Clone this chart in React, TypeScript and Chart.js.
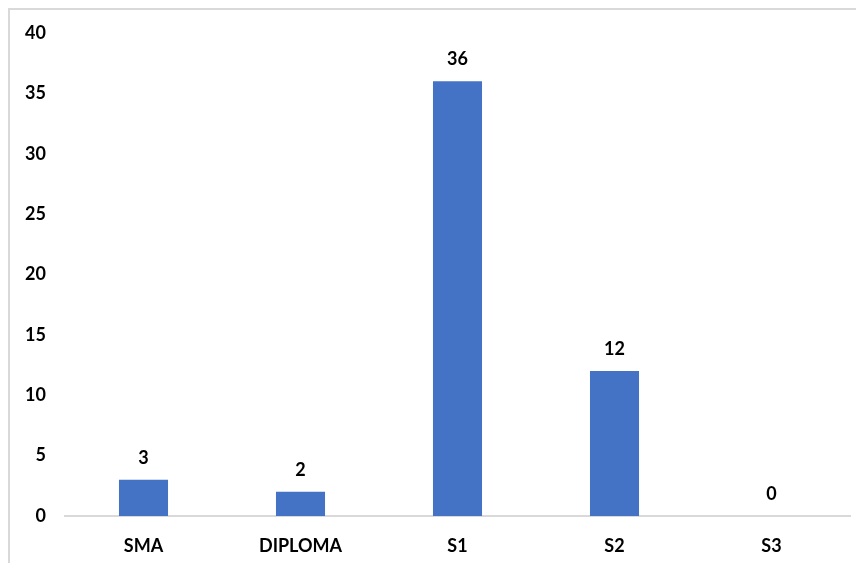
import React, { useEffect, useRef } from "react";
import { Chart, registerables } from "chart.js";

Chart.register(...registerables);

const categories = ["SMA", "DIPLOMA", "S1", "S2", "S3"];
const values = [3, 2, 36, 12, 0];
const yMin = 0;
const yMax = 40;
const yStep = 5;

const FONT = "Lato, 'Open Sans', sans-serif";

const valueLabels = {
  id: "valueLabels",
  afterDatasetsDraw(chart: any) {
    const ctx = chart.ctx;
    const meta = chart.getDatasetMeta(0);
    ctx.save();
    ctx.font = `bold 18px ${FONT}`;
    ctx.fillStyle = "#000";
    ctx.textAlign = "center";
    ctx.textBaseline = "middle";
    meta.data.forEach((el: any, i: number) => {
      ctx.fillText(String(values[i]), el.x, el.y - 22);
    });
    ctx.restore();
  },
};

export default function App() {
  const ref = useRef<HTMLCanvasElement>(null);
  useEffect(() => {
    if (!ref.current) return;
    const chart = new Chart(ref.current, {
      type: "bar",
      data: {
        labels: categories,
        datasets: [
          {
            data: values,
            backgroundColor: "#4472C4",
            barPercentage: 0.625,
            categoryPercentage: 0.5,
          },
        ],
      },
      options: {
        animation: false,
        responsive: false,
        maintainAspectRatio: false,
        layout: { padding: { top: 23, right: 14, left: 0, bottom: 0 } },
        plugins: { legend: { display: false }, tooltip: { enabled: false } },
        scales: {
          x: {
            grid: { display: false },
            border: { display: true, color: "#d9d9d9", width: 2 },
            ticks: {
              color: "#000",
              font: { family: FONT, size: 18, weight: "bold" },
              padding: 11,
            },
            afterFit(axis: any) {
              axis.height = 47;
              axis.paddingLeft = 0;
              axis.paddingRight = 0;
            },
          },
          y: {
            min: yMin,
            max: yMax,
            grid: { display: false },
            border: { display: false },
            ticks: {
              stepSize: yStep,
              color: "#000",
              font: { family: FONT, size: 18, weight: "bold" },
              padding: 11,
            },
            afterFit(axis: any) {
              axis.width = 55;
              axis.paddingTop = 0;
              axis.paddingBottom = 0;
            },
          },
        },
      },
      plugins: [valueLabels],
    });
    return () => chart.destroy();
  }, []);
  return (
    <div
      style={{
        width: 856,
        height: 555,
        boxSizing: "border-box",
        borderTop: "2px solid #d9d9d9",
        borderLeft: "2px solid #d9d9d9",
        background: "#fff",
      }}
    >
      <canvas ref={ref} width={854} height={553} style={{ display: "block" }} />
    </div>
  );
}
